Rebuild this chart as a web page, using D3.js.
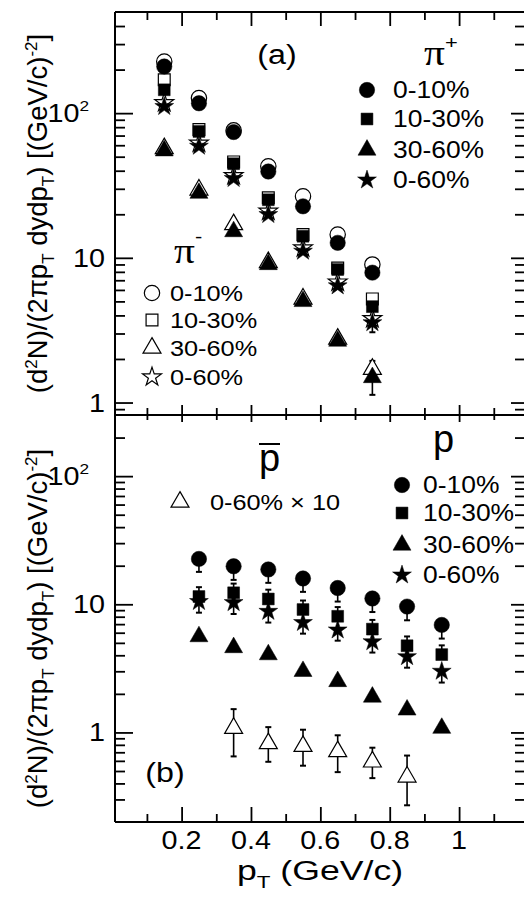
<!DOCTYPE html>
<html><head><meta charset="utf-8">
<script src="https://cdn.jsdelivr.net/npm/d3@7"></script>
<style>
body{margin:0;background:#fff}
svg{display:block}
text{font-family:"Liberation Sans",Arial,Helvetica,sans-serif;fill:#000}
</style>
</head><body>
<svg id="c" width="524" height="911"></svg>
<script>
// ---------------- DATA ----------------
// panel (a): pions
const pTpi = [0.15, 0.25, 0.35, 0.45, 0.55, 0.65, 0.75];
const piPlus_0_10  = [210, 117, 74, 39.5, 22.7, 12.7, 7.9];
const piMinus_0_10 = [227, 127, 76, 42.9, 26.6, 14.5, 9.0];
const piPlus_10_30  = [145, 74.7, 44.7, 25.2, 14.1, 8.3, 4.6];
const piMinus_10_30 = [170, 77, 46, 26, 14.5, 8.5, 5.2];
const piPlus_30_60  = [55, 28, 15.2, 9.0, 5.0, 2.66, 1.49];
const piMinus_30_60 = [57, 29.5, 17, 9.3, 5.2, 2.75, 1.7];
const piPlus_0_60  = [111, 59, 35.3, 19.9, 11.1, 6.4, 3.56];
const piMinus_0_60 = [118, 62, 37, 21, 11.7, 6.8, 3.8];
const piPlus_30_60_err  = [0, 0, 0, 0, 0, 0, 0.36];
const piMinus_30_60_err = [0, 0, 0, 0, 0, 0, 0.24];
const piPlus_0_60_err   = [0, 0, 0, 0, 0, 0, 0.5];

// panel (b): protons / antiprotons
const pTp = [0.25, 0.35, 0.45, 0.55, 0.65, 0.75, 0.85, 0.95];
const p_0_10  = [22.6, 19.8, 18.7, 15.9, 13.4, 11.1, 9.6, 6.9];
const p_0_10_errLo = [4.7, 4.3, 4.0, 3.4, 2.9, 2.4, 2.1, 1.5];
const p_10_30 = [11.5, 12.3, 11.0, 9.1, 8.06, 6.4, 4.75, 4.05];
const p_10_30_errHi = [2.1, 2.2, 2.0, 1.6, 1.45, 1.15, 0.86, 0.73];
const p_30_60 = [5.6, 4.6, 4.05, 3.0, 2.5, 1.89, 1.5, 1.08];
const p_0_60  = [10.5, 10.3, 8.8, 7.2, 6.3, 5.1, 3.9, 3.0];
const p_0_60_errLo = [1.9, 1.9, 1.6, 1.3, 1.1, 0.9, 0.7, 0.55];
const pTpbar = [0.35, 0.45, 0.55, 0.65, 0.75, 0.85];
const pbar_0_60_x10 = [1.08, 0.82, 0.78, 0.71, 0.59, 0.45];
const pbar_errHi = [0.44, 0.28, 0.27, 0.24, 0.17, 0.21];
const pbar_errLo = [0.43, 0.23, 0.23, 0.22, 0.15, 0.18];

// ticks / labels
const xMajorTicks = [0.2, 0.4, 0.6, 0.8, 1.0];
const xMinorTicks = [0.1, 0.3, 0.5, 0.7, 0.9, 1.1];
const xTickLabels = ["0.2", "0.4", "0.6", "0.8", "1"];
const yMajorTicks = [1, 10, 100];
const centralityLabels = ["0-10%", "10-30%", "30-60%", "0-60%"];

// ---------------- LAYOUT ----------------
const svg = d3.select("#c");
const L = 115, R = 525, T = 12, M = 415, B = 822;
const x = d3.scaleLinear().domain([0.008, 1.19]).range([L, R]);
const yA = d3.scaleLog().domain([0.82, 500]).range([M, T]);
const yB = d3.scaleLog().domain([0.2, 300]).range([B, M]);

const SX = 1.15; // horizontal glyph stretch of the original
function txt(g, px, py, parts, size, opts = {}) {
  const t = g.append("text")
    .attr("transform", `translate(${px},${py}) scale(${opts.sx || SX},1)`)
    .attr("font-size", size)
    .attr("text-anchor", opts.anchor || "start");
  if (opts.family) t.style("font-family", opts.family);
  if (typeof parts === "string") parts = [[parts]];
  parts.forEach(p => {
    const ts = t.append("tspan").text(p[0]);
    if (p[1]) ts.attr("dy", p[1]);
    if (p[2]) ts.attr("font-size", p[2]);
    if (p[3]) ts.style("font-family", p[3]);
  });
  return t;
}

function minorLog(domain) {
  const out = [];
  for (let e = -2; e <= 3; e++) for (let k = 2; k <= 9; k++) {
    const v = k * Math.pow(10, e);
    if (v > domain[0] && v < domain[1]) out.push(v);
  }
  return out;
}

const axG = svg.append("g");
function styleAxis(sel) {
  sel.select(".domain").remove();
  sel.selectAll("line").attr("stroke", "#000").attr("stroke-width", 1.8);
  sel.selectAll("text").remove();
}
// x ticks
[[T, d3.axisBottom, 14, 8], [M, d3.axisTop, 10, 7], [M, d3.axisBottom, 7, 5], [B, d3.axisTop, 15, 8]].forEach(([yy, ax, maj, min]) => {
  axG.append("g").attr("transform", `translate(0,${yy})`)
    .call(ax(x).tickValues(xMajorTicks).tickSize(maj)).call(styleAxis);
  axG.append("g").attr("transform", `translate(0,${yy})`)
    .call(ax(x).tickValues(xMinorTicks).tickSize(min)).call(styleAxis);
});
// y ticks
[[yA], [yB]].forEach(([ys]) => {
  axG.append("g").attr("transform", `translate(${L},0)`)
    .call(d3.axisRight(ys).tickValues(yMajorTicks).tickSize(18)).call(styleAxis);
  axG.append("g").attr("transform", `translate(${L},0)`)
    .call(d3.axisRight(ys).tickValues(minorLog(ys.domain())).tickSize(10)).call(styleAxis);
  axG.append("g").attr("transform", `translate(${R},0)`)
    .call(d3.axisLeft(ys).tickValues(yMajorTicks).tickSize(14)).call(styleAxis);
  axG.append("g").attr("transform", `translate(${R},0)`)
    .call(d3.axisLeft(ys).tickValues(minorLog(ys.domain())).tickSize(10)).call(styleAxis);
});
// frame
[[L, T, R, T], [L, M, R, M], [L, B, R, B], [L, T, L, B], [R, T, R, B]].forEach(d =>
  axG.append("line").attr("x1", d[0]).attr("y1", d[1]).attr("x2", d[2]).attr("y2", d[3])
    .attr("stroke", "#000").attr("stroke-width", 2));

// tick labels
const labG = svg.append("g");
xMajorTicks.forEach((v, i) => txt(labG, x(v), 849, xTickLabels[i], 25, {anchor: "middle"}));
function yLabels(ys) {
  yMajorTicks.forEach(v => {
    if (v === 100) txt(labG, 89, ys(v) + 9, [["10"], ["2", -11, 15]], 25, {anchor: "end"});
    else txt(labG, 105, ys(v) + 9, String(v), 25, {anchor: "end"});
  });
}
yLabels(yA); yLabels(yB);

// axis titles
function yTitle(cy) {
  const t = svg.append("text").attr("transform", `translate(47,${cy}) rotate(-90)`)
    .attr("font-size", 27.5).attr("text-anchor", "middle");
  const parts = [["(d"], ["2", -10, 17], ["N)/(2\u03c0p", 10], ["T", 7, 17], [" dydp", -7], ["T", 7, 17], [") [(GeV/c)", -7], ["-2", -10, 17], ["]", 10]];
  parts.forEach(p => {
    const ts = t.append("tspan").text(p[0]);
    if (p[1]) ts.attr("dy", p[1]);
    if (p[2]) ts.attr("font-size", p[2]);
  });
}
yTitle((T + M) / 2);
yTitle((M + B) / 2 + 10);
txt(labG, 320, 880, [["p"], ["T", 8, 17], [" (GeV/c)", -8]], 27, {anchor: "middle", sx: 1.32});

// ---------------- MARKERS ----------------
const symType = {circle: d3.symbolCircle, square: d3.symbolSquare, triangle: d3.symbolTriangle, star: d3.symbolStar};
const symSize = {circle: 185, square: 140, triangle: 140, star: 110};
function marker(g, px, py, type, open) {
  g.append("path").attr("d", d3.symbol(symType[type], symSize[type])())
    .attr("transform", `translate(${px},${py})`)
    .attr("fill", open ? "#fff" : "#000")
    .attr("stroke", "#000").attr("stroke-width", open ? 1.2 : 0.5);
}
function errBars(g, xs, ys, vals, lo, hi) {
  vals.forEach((v, i) => {
    const l = lo ? lo[i] : 0, h = hi ? hi[i] : 0;
    if (!l && !h) return;
    const px = x(xs[i]), y1 = ys(v - l), y2 = ys(v + h);
    g.append("line").attr("x1", px).attr("x2", px).attr("y1", y1).attr("y2", y2)
      .attr("stroke", "#000").attr("stroke-width", 1.6);
    if (l) g.append("line").attr("x1", px - 3).attr("x2", px + 3).attr("y1", y1).attr("y2", y1).attr("stroke", "#000").attr("stroke-width", 2);
    if (h) g.append("line").attr("x1", px - 3).attr("x2", px + 3).attr("y1", y2).attr("y2", y2).attr("stroke", "#000").attr("stroke-width", 2);
  });
}
function series(g, xs, ys, vals, type, open) {
  vals.forEach((v, i) => marker(g, x(xs[i]), ys(v), type, open));
}

// panel (a)
const gA = svg.append("g");
errBars(gA, pTpi, yA, piMinus_30_60, piMinus_30_60_err, piMinus_30_60_err);
series(gA, pTpi, yA, piMinus_0_10, "circle", true);
series(gA, pTpi, yA, piMinus_10_30, "square", true);
series(gA, pTpi, yA, piMinus_30_60, "triangle", true);
series(gA, pTpi, yA, piMinus_0_60, "star", true);
errBars(gA, pTpi, yA, piPlus_30_60, piPlus_30_60_err, null);
errBars(gA, pTpi, yA, piPlus_0_60, piPlus_0_60_err, null);
series(gA, pTpi, yA, piPlus_0_10, "circle", false);
series(gA, pTpi, yA, piPlus_10_30, "square", false);
series(gA, pTpi, yA, piPlus_30_60, "triangle", false);
series(gA, pTpi, yA, piPlus_0_60, "star", false);

// panel (b)
const gB = svg.append("g");
errBars(gB, pTp, yB, p_0_10, p_0_10_errLo, null);
errBars(gB, pTp, yB, p_10_30, null, p_10_30_errHi);
errBars(gB, pTp, yB, p_0_60, p_0_60_errLo, null);
errBars(gB, pTpbar, yB, pbar_0_60_x10, pbar_errLo, pbar_errHi);
series(gB, pTp, yB, p_0_10, "circle", false);
series(gB, pTp, yB, p_10_30, "square", false);
series(gB, pTp, yB, p_30_60, "triangle", false);
series(gB, pTp, yB, p_0_60, "star", false);
series(gB, pTpbar, yB, pbar_0_60_x10, "triangle", true);

// ---------------- LEGENDS ----------------
const legTypes = ["circle", "square", "triangle", "star"];
const lg = svg.append("g");
txt(lg, 277, 64, "(a)", 28, {anchor: "middle"});
txt(lg, 424, 65, [["\u03c0", 0, null, "Liberation Serif"], ["+", -16, 19]], 36);
[90, 119, 150, 180].forEach((yy, i) => {
  marker(lg, 367, yy, legTypes[i], false);
  txt(lg, 393, yy + 8, centralityLabels[i], 23);
});
txt(lg, 174, 263, [["\u03c0", 0, null, "Liberation Serif"], ["-", -20, 19]], 36);
[293, 320, 348, 377].forEach((yy, i) => {
  marker(lg, 152, yy, legTypes[i], true);
  txt(lg, 170, yy + 8, centralityLabels[i], 22);
});
txt(lg, 165, 782, "(b)", 28, {anchor: "middle"});
// p-bar
txt(lg, 259, 471, "p", 38, {sx: 1.0});
lg.append("line").attr("x1", 259).attr("x2", 280).attr("y1", 444).attr("y2", 444).attr("stroke", "#000").attr("stroke-width", 2);
marker(lg, 180, 502, "triangle", true);
txt(lg, 210, 510, "0-60% \u00d7 10", 22);
// p
txt(lg, 433, 452, "p", 38, {sx: 1.0});
[485, 513, 545, 575].forEach((yy, i) => {
  marker(lg, 402, yy, legTypes[i], false);
  txt(lg, 423, yy + 8, centralityLabels[i], 23);
});
</script>
</body></html>
